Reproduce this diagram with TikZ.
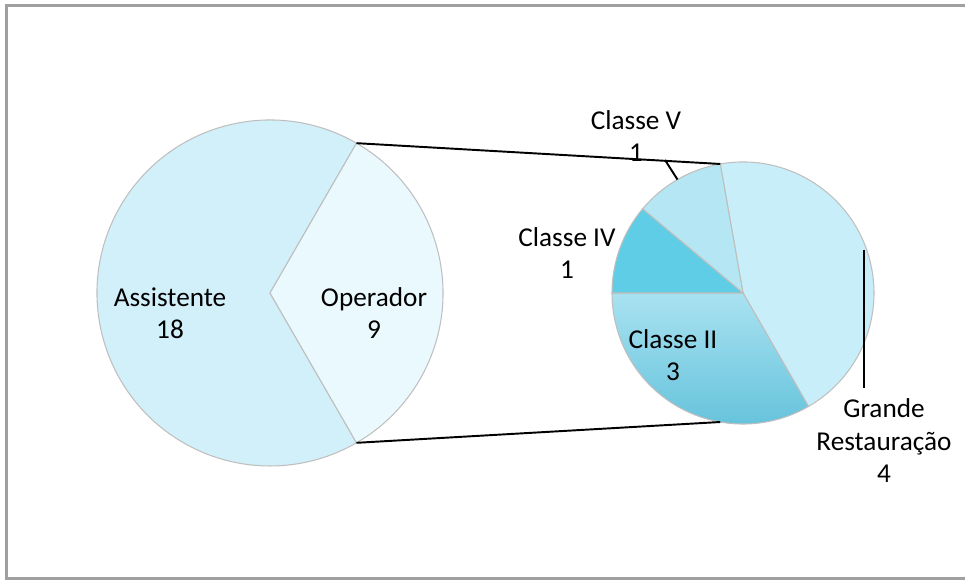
\documentclass[tikz,border=0pt]{standalone}
\usepackage{fontspec}
\setmainfont{Carlito}
\usetikzlibrary{calc}
\definecolor{asstblue}{HTML}{D2F0FA}
\definecolor{operblue}{HTML}{EAF9FD}
\definecolor{grandblue}{HTML}{C8EEF9}
\definecolor{vblue}{HTML}{B4E6F3}
\definecolor{ivblue}{HTML}{5FCDE5}
\definecolor{iitop}{HTML}{A9E2F1}
\definecolor{iibot}{HTML}{5DBFD9}
\definecolor{framegray}{HTML}{A0A0A0}
\tikzset{
    slice/.style={draw=gray!50, line width=0.6pt},
    pielabel/.style={align=center, font=\fontsize{15.5}{18.5}\selectfont, inner sep=0pt},
    connector/.style={draw, line width=1.1pt},
    leader/.style={draw, line width=1.1pt}
}

\begin{document}
\begin{tikzpicture}[x=0.02cm, y=0.02cm]
    \useasboundingbox (0,0) rectangle (965,581);
    \draw[framegray, line width=0.06cm] (6.5,2) rectangle (980,575.5);

    % main pie
    \coordinate (mainc) at (270,288);
    \filldraw[slice, fill=asstblue] (mainc) -- ++(60:173) arc[start angle=60, end angle=300, radius=173] -- cycle;
    \filldraw[slice, fill=operblue] (mainc) -- ++(60:173) arc[start angle=60, end angle=-60, radius=173] -- cycle;
    \coordinate (maintop) at ($(mainc)+(60:173)$);
    \coordinate (mainbot) at ($(mainc)+(-60:173)$);

    % second pie
    \coordinate (subc) at (743,288);
    \filldraw[slice, fill=grandblue] (subc) -- ++(100:131) arc[start angle=100, end angle=-60, radius=131] -- cycle;
    \shade[top color=iitop, bottom color=iibot] (subc) -- ++(-60:131) arc[start angle=-60, end angle=-180, radius=131] -- cycle;
    \draw[slice] (subc) -- ++(-60:131) arc[start angle=-60, end angle=-180, radius=131] -- cycle;
    \filldraw[slice, fill=ivblue] (subc) -- ++(180:131) arc[start angle=180, end angle=140, radius=131] -- cycle;
    \filldraw[slice, fill=vblue] (subc) -- ++(140:131) arc[start angle=140, end angle=100, radius=131] -- cycle;
    \coordinate (subtop) at ($(subc)+(100:131)$);
    \coordinate (subbot) at ($(subc)+(-100:131)$);
    \coordinate (vtip) at ($(subc)+(120:131)$);

    \draw[connector] (maintop) -- (subtop);
    \draw[connector] (mainbot) -- (subbot);

    % labels
    \node[pielabel] (asst) at (170,268) {Assistente\\18};
    \node[pielabel] (oper) at (374,268) {Operador\\9};
    \node[pielabel] (clv) at (636,445) {Classe V\\1};
    \node[pielabel] (cliv) at (567,328) {Classe IV\\1};
    \node[pielabel] (clii) at (673,226) {Classe II\\3};
    \node[pielabel] (grand) at (884,140) {Grande\\Restauração\\4};

    \coordinate (vlead) at (665,421);
    \coordinate (gtop) at (864,331);
    \coordinate (gbot) at (864,193);
    \draw[leader] (vlead) -- (vtip);
    \draw[leader] (gtop) -- (gbot);
\end{tikzpicture}
\end{document}
